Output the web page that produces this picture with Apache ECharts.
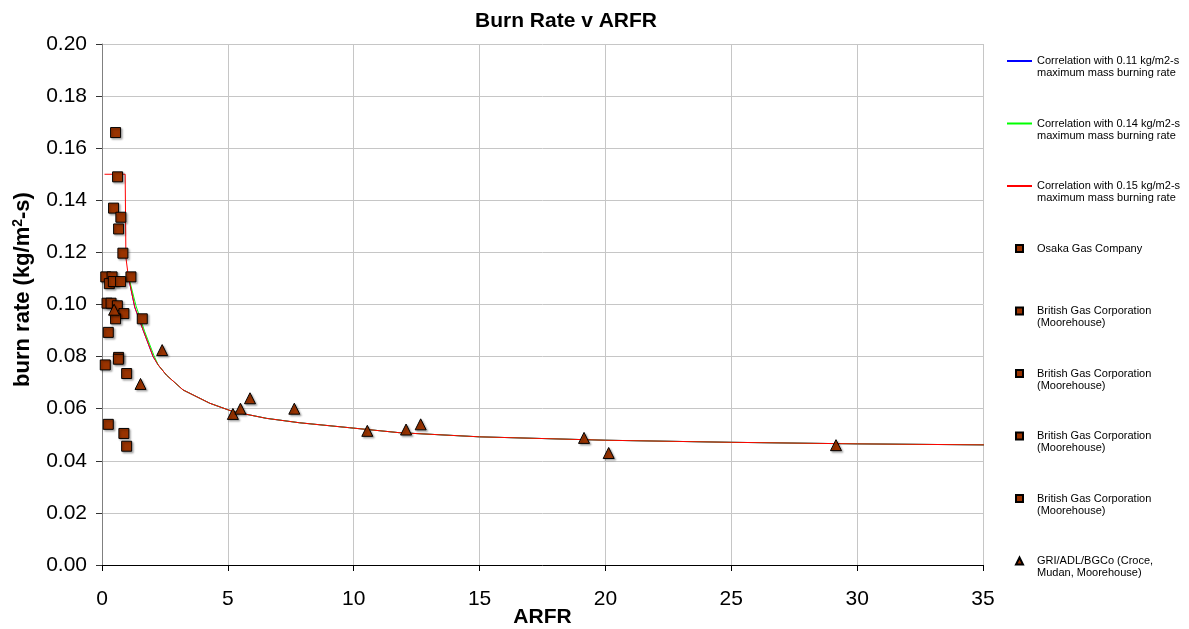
<!DOCTYPE html>
<html>
<head>
<meta charset="utf-8">
<title>Burn Rate v ARFR</title>
<script src="https://cdn.jsdelivr.net/npm/echarts@6/dist/echarts.min.js"></script>
<style>
  html, body { margin: 0; padding: 0; background: #fff; }
  #chart { width: 1189px; height: 629px; }
</style>
</head>
<body>
<div id="chart"></div>
<script>
// x ticks / y ticks
var xTicks = [0, 35, 5];
var yTicks = [0, 0.2, 0.02];

// correlation curves [ARFR, burn rate]
var corr011 = [[1.05,0.1105],[1.3,0.099],[1.64,0.090],[2.03,0.080],[2.23,0.0768],[2.56,0.0729],[3.22,0.0672],[4.28,0.0621],[5.2,0.0589],[6.53,0.0563],[7.85,0.0546],[9.83,0.0527],[11.8,0.0508],[15,0.0492],[20,0.0479],[25,0.0471],[30,0.0465],[35.25,0.0461]];
var corr014 = [[1.05,0.111],[1.35,0.0995],[1.7,0.0895],[2.06,0.0805],[2.23,0.0768],[2.56,0.0729],[3.22,0.0672],[4.28,0.0621],[5.2,0.0589],[6.53,0.0563],[7.85,0.0546],[9.83,0.0527],[11.8,0.0508],[15,0.0492],[20,0.0479],[25,0.0471],[30,0.0465],[35.25,0.0461]];
var corr015 = [[0.1,0.150],[0.92,0.150],[0.95,0.118],[1.05,0.1105],[1.3,0.099],[1.64,0.090],[2.03,0.080],[2.23,0.0768],[2.56,0.0729],[3.22,0.0672],[4.28,0.0621],[5.2,0.0589],[6.53,0.0563],[7.85,0.0546],[9.83,0.0527],[11.8,0.0508],[15,0.0492],[20,0.0479],[25,0.0471],[30,0.0465],[35.25,0.0461]];

// measured points
var osaka = [[0.54,0.166],[0.62,0.149],[0.46,0.137],[0.75,0.1335],[0.66,0.129],[0.83,0.1197],[1.15,0.1106]];
var bgc1 = [[0.15,0.1106],[0.40,0.1106],[0.29,0.108],[0.45,0.1088],[0.74,0.1088]];
var bgc2 = [[0.2,0.1005],[0.36,0.1005],[0.61,0.0995],[0.87,0.0965],[0.54,0.0945]];
var bgc3 = [[1.6,0.0945],[0.25,0.0893],[0.66,0.0797],[0.65,0.0790],[0.13,0.0768]];
var bgc4 = [[0.98,0.0735],[0.25,0.054],[0.87,0.0505],[0.98,0.0456]];
var gri = [[0.48,0.098],[1.53,0.0695],[2.39,0.0825],[5.2,0.058],[5.5,0.060],[5.88,0.064],[7.64,0.060],[10.54,0.0515],[12.08,0.052],[12.66,0.054],[19.15,0.0488],[20.13,0.043],[29.16,0.046]];

// leading blank line keeps the first text line level with the legend symbol
var legendText = {
  'c011': ' \nCorrelation with 0.11 kg/m2-s\nmaximum mass burning rate',
  'c014': ' \nCorrelation with 0.14 kg/m2-s\nmaximum mass burning rate',
  'c015': ' \nCorrelation with 0.15 kg/m2-s\nmaximum mass burning rate',
  'osaka': ' \nOsaka Gas Company\n ',
  'bgc1': ' \nBritish Gas Corporation\n(Moorehouse)',
  'bgc2': ' \nBritish Gas Corporation\n(Moorehouse)',
  'bgc3': ' \nBritish Gas Corporation\n(Moorehouse)',
  'bgc4': ' \nBritish Gas Corporation\n(Moorehouse)',
  'gri': ' \nGRI/ADL/BGCo (Croce,\nMudan, Moorehouse)'
};

var lineIcon = 'path://M0,0H25V2H0Z';
var squareIcon = 'path://M0,0H10V10H0Z';
var triangleIcon = 'path://M5,0L10,10H0Z';

var chart = echarts.init(document.getElementById('chart'));

var markerStyle = {
  color: '#993300',
  opacity: 1,
  borderColor: '#000',
  borderWidth: 1,
  shadowColor: 'rgba(0,0,0,0.3)',
  shadowBlur: 2,
  shadowOffsetX: 1.5,
  shadowOffsetY: 1.5
};

function lineSeries(name, color, data) {
  return {
    name: name,
    type: 'line',
    data: data,
    symbol: 'none',
    clip: false,
    animation: false,
    lineStyle: { color: color, width: 1 },
    itemStyle: { color: color },
    z: 2
  };
}

function pointSeries(name, symbol, size, data) {
  return {
    name: name,
    type: 'scatter',
    data: data,
    symbol: symbol,
    symbolSize: size,
    animation: false,
    itemStyle: markerStyle,
    z: 3
  };
}

chart.setOption({
  backgroundColor: '#fff',
  title: {
    text: 'Burn Rate v ARFR',
    left: 475,
    top: 11,
    padding: 0,
    textStyle: { fontFamily: 'Liberation Sans', fontSize: 21, fontWeight: 'bold', color: '#000' }
  },
  legend: {
    orient: 'vertical',
    left: 1007,
    top: 43,
    padding: 0,
    itemWidth: 25,
    itemHeight: 7,
    itemGap: 26.5,
    symbolKeepAspect: true,
    data: [
      { name: 'c011', icon: lineIcon },
      { name: 'c014', icon: lineIcon },
      { name: 'c015', icon: lineIcon },
      { name: 'osaka', icon: squareIcon },
      { name: 'bgc1', icon: squareIcon },
      { name: 'bgc2', icon: squareIcon },
      { name: 'bgc3', icon: squareIcon },
      { name: 'bgc4', icon: squareIcon },
      { name: 'gri', icon: triangleIcon }
    ],
    formatter: function (name) { return legendText[name]; },
    textStyle: { fontFamily: 'Liberation Sans', fontSize: 11, lineHeight: 12, color: '#000' }
  },
  grid: { left: 102, right: 206, top: 44, bottom: 64, containLabel: false, outerBoundsMode: 'none' },
  xAxis: {
    type: 'value',
    min: xTicks[0],
    max: xTicks[1],
    interval: xTicks[2],
    name: 'ARFR',
    nameLocation: 'middle',
    nameGap: 42,
    nameMoveOverlap: false,
    nameTextStyle: { fontFamily: 'Liberation Sans', fontSize: 21, fontWeight: 'bold', color: '#000' },
    axisLine: { lineStyle: { color: '#000', width: 1 } },
    axisTick: { length: 6, lineStyle: { color: '#000' } },
    axisLabel: { margin: 24, fontFamily: 'Liberation Sans', fontSize: 21, color: '#000' },
    splitLine: { show: true, lineStyle: { color: '#c6c6c6', width: 1 } }
  },
  yAxis: {
    type: 'value',
    min: yTicks[0],
    max: yTicks[1],
    interval: yTicks[2],
    name: 'burn rate (kg/m{sup|2}-s)',
    nameLocation: 'middle',
    nameGap: 67,
    nameMoveOverlap: false,
    nameTextStyle: {
      fontFamily: 'Liberation Sans', fontSize: 22, fontWeight: 'bold', color: '#000',
      padding: [0, 0, 0, 30],
      rich: {
        sup: { fontFamily: 'Liberation Sans', fontSize: 14, fontWeight: 'bold', color: '#000', padding: [0, 0, 10, 0] }
      }
    },
    axisLine: { show: true, lineStyle: { color: '#808080', width: 1 } },
    axisTick: { show: true, length: 6, lineStyle: { color: '#333' } },
    axisLabel: {
      margin: 15,
      fontFamily: 'Liberation Sans', fontSize: 21, color: '#000',
      formatter: function (v) { return v.toFixed(2); }
    },
    splitLine: { show: true, lineStyle: { color: '#c6c6c6', width: 1 } }
  },
  series: [
    lineSeries('c011', '#0000ff', corr011),
    lineSeries('c014', '#00ff00', corr014),
    lineSeries('c015', '#ff0000', corr015),
    pointSeries('osaka', 'rect', 10, osaka),
    pointSeries('bgc1', 'rect', 10, bgc1),
    pointSeries('bgc2', 'rect', 10, bgc2),
    pointSeries('bgc3', 'rect', 10, bgc3),
    pointSeries('bgc4', 'rect', 10, bgc4),
    pointSeries('gri', 'triangle', 11, gri)
  ]
});
</script>
</body>
</html>
